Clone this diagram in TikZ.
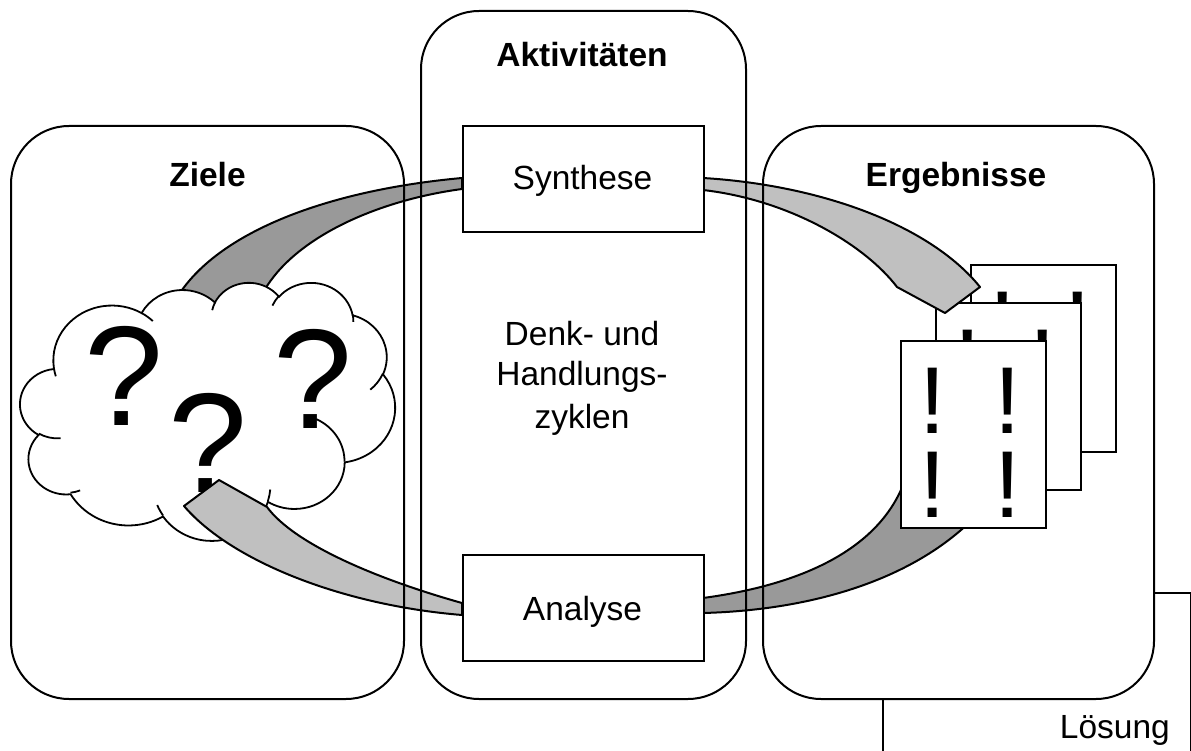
\documentclass[tikz,border=0pt]{standalone}
\usepackage{fontspec}
\setmainfont{Liberation Sans}

\definecolor{darkband}{RGB}{153,153,153}
\definecolor{lightband}{RGB}{192,192,192}

% One puff of the cloud outline. Angles are given as seen on the page
% (ray angles); they are turned into the parametric angles of TikZ arcs.
\newcommand\mkpuff[5]{%
  \pgfmathsetmacro\pfS{atan2((#2)*sin(#4),(#3)*cos(#4))}%
  \pgfmathsetmacro\pfE{atan2((#2)*sin((#4)+(#5)),(#3)*cos((#4)+(#5)))}%
  \pgfmathsetmacro\pfD{mod(\pfE-(\pfS)+720,360)}%
  \expandafter\xdef\csname cArc#1\endcsname{arc[x radius=#2,y radius=#3,start angle=\pfS,delta angle=\pfD]}%
}
% outer puffs
\mkpuff{A}{67.53}{91.90}{-190.4875}{123.7805}
\mkpuff{B}{53.33}{72.67}{-144.1024}{89.9452}
\mkpuff{C}{43.65}{59.45}{-145.8079}{99.7230}
\mkpuff{D}{48.57}{65.95}{-130.9861}{117.2417}
\mkpuff{E}{53.33}{72.73}{-78.7089}{109.0269}
\mkpuff{F}{67.75}{92.20}{-46.2673}{130.2690}
\mkpuff{G}{57.85}{78.67}{0.6250}{114.0333}
\mkpuff{H}{67.52}{92.15}{22.4516}{115.1726}
\mkpuff{I}{77.20}{105.43}{66.2426}{75.2310}
\mkpuff{J}{43.60}{59.18}{-274.9421}{146.7356}
\mkpuff{K}{43.45}{59.45}{-246.8285}{152.5189}
% short inner strokes between the puffs
\mkpuff{a}{43.45}{59.45}{86.742}{26.4295}
\mkpuff{b}{43.60}{59.18}{73.6105}{11.4475}
\mkpuff{c}{67.52}{92.15}{137.6242}{14.0811}
\mkpuff{d}{67.52}{92.15}{6.4533}{15.9984}
\mkpuff{e}{57.85}{78.67}{-70.2924}{70.9174}
\mkpuff{f}{53.33}{72.73}{30.3180}{27.7515}
\mkpuff{g}{48.57}{65.95}{-13.7443}{14.8589}
\mkpuff{h}{48.57}{65.95}{-149.1815}{18.1954}
\mkpuff{i}{43.65}{59.45}{-163.4943}{17.6864}
\mkpuff{j}{67.53}{91.90}{-66.7070}{12.3194}
\mkpuff{k}{67.53}{91.90}{157.6544}{11.8582}

% one result sheet with its four exclamation marks
\newcommand\docsheet[3]{%
  \node[docbox] (#1) at (#2,#3) {};
  \node[excl] (#1ul) at (#2+32.5,#3+93) {!};
  \node[excl] (#1ll) at (#2+32.5,#3+177) {!};
  \node[excl] (#1ur) at (#2+107.5,#3+93) {!};
  \node[excl] (#1lr) at (#2+107.5,#3+177) {!};
}

\begin{document}
\begin{tikzpicture}[x=1pt,y=1pt,yscale=-1,
  blackline/.style={draw=black,line width=2pt},
  panelbox/.style={blackline,rounded corners=58pt,inner sep=0pt,anchor=north west},
  band/.style={draw=black,line width=2pt,line join=round},
  cloudline/.style={draw=black,line width=1.8pt},
  stepbox/.style={blackline,fill=white,inner sep=0pt,anchor=north west,
                  minimum width=241pt,minimum height=106pt},
  docbox/.style={blackline,fill=white,minimum width=145pt,minimum height=187pt,
                 inner sep=0pt,anchor=north west},
  headtxt/.style={font=\fontsize{33.5}{40}\selectfont\bfseries,anchor=base,inner sep=0pt},
  bodytxt/.style={font=\fontsize{33.5}{40}\selectfont,anchor=base,inner sep=0pt},
  qmark/.style={font=\fontsize{142}{142}\selectfont,anchor=base,inner sep=0pt},
  excl/.style={font=\fontsize{95}{95}\selectfont,anchor=base,inner sep=0pt},
]
\useasboundingbox (0,0) rectangle (1191,751);

% solution box, partly hidden behind the results panel
\node[blackline,inner sep=0pt,anchor=north west,minimum width=308pt,minimum height=200pt]
  (loesung) at (882,592) {};
\node[bodytxt,anchor=base east] (loesungtxt) at (1170,738) {Lösung};

% panel backgrounds
\fill[white,rounded corners=58pt] (10,125) rectangle (403,698);
\fill[white,rounded corners=58pt] (420,10) rectangle (745,698);
\fill[white,rounded corners=58pt] (762,125) rectangle (1153,698);

% band from the synthesis step into the cloud (runs under the cloud)
\draw[band,fill=darkband] (462,178) .. controls (330,190) and (225,230) .. (182,290)
  -- (186,325) -- (262,325) -- (267,286)
  .. controls (300,235) and (380,200) .. (462,189) -- cycle;

% cloud of open questions
\begin{scope}[shift={(20,282)},xscale=0.8681,yscale=0.5972]
  \draw[cloudline,fill=white] (39.00,143.70) \cArcA \cArcB \cArcC \cArcD \cArcE \cArcF
    \cArcG \cArcH \cArcI \cArcJ \cArcK -- cycle;
  \draw[cloudline] (46.93,261.77) \cArca (69.28,348.99) \cArcb (164.78,390.90) \cArcc
    (288.27,347.51) \cArcd (341.29,229.54) \cArce (417.98,153.54) \cArcf
    (383.24,54.26) \cArcg (290.78,39.52) \cArch (221.41,47.20) \cArci
    (140.00,51.92) \cArcj (41.27,157.89) \cArck;
\end{scope}
\node[qmark] (q1) at (123.5,425) {?};
\node[qmark] (q2) at (207.5,492) {?};
\node[qmark] (q3) at (312.5,428) {?};

% band from the cloud to the analysis step
\draw[band,fill=lightband] (462,603) .. controls (380,580) and (295,545) .. (267,507)
  -- (219,480) -- (184,506)
  .. controls (230,560) and (340,605) .. (462,615) -- cycle;

% band from the analysis step to the results (ends under the sheets)
\draw[band,fill=darkband] (703,598) .. controls (800,585) and (880,550) .. (905,480)
  -- (990,500) .. controls (930,575) and (820,610) .. (703,613) -- cycle;

% stacked result sheets
\docsheet{sheetback}{970}{264}
\docsheet{sheetmid}{935}{302}
\docsheet{sheetfront}{900}{340}

% band from the synthesis step to the results
\draw[band,fill=lightband] (703,178) .. controls (820,185) and (930,225) .. (980,287)
  -- (945,313) -- (897,287)
  .. controls (865,245) and (790,200) .. (703,190) -- cycle;

% panel outlines
\node[panelbox,minimum width=393pt,minimum height=573pt] (ziele) at (10,125) {};
\node[panelbox,minimum width=325pt,minimum height=688pt] (aktiv) at (420,10) {};
\node[panelbox,minimum width=391pt,minimum height=573pt] (ergeb) at (762,125) {};

% the two steps of the cycle
\node[stepbox] (synth) at (462,125) {};
\node[stepbox] (analyse) at (462,554) {};

% texts
\node[headtxt] (zieletxt) at (207.5,187) {Ziele};
\node[headtxt] (aktivtxt) at (582,67) {Aktivitäten};
\node[headtxt] (ergebtxt) at (956,187) {Ergebnisse};
\node[bodytxt] (synthtxt) at (582.5,190) {Synthese};
\node[bodytxt] (analysetxt) at (582.5,620) {Analyse};
\node[bodytxt] (denk1) at (582,345) {Denk- und};
\node[bodytxt] (denk2) at (582,385) {Handlungs-};
\node[bodytxt] (denk3) at (582,428) {zyklen};
\end{tikzpicture}
\end{document}
